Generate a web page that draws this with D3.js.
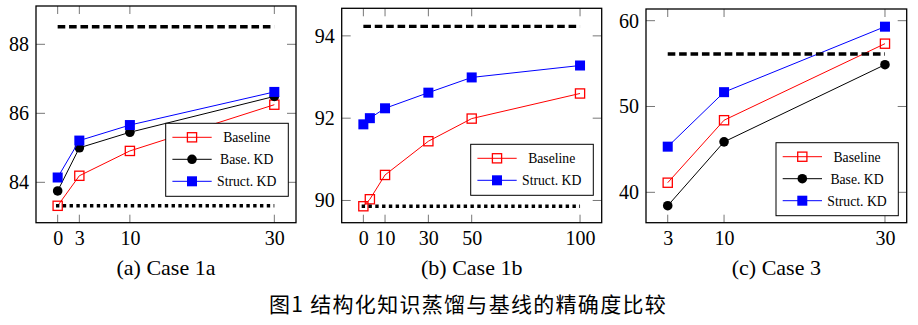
<!DOCTYPE html>
<html><head><meta charset="utf-8">
<script src="https://cdn.jsdelivr.net/npm/d3@7"></script>
<style>html,body{margin:0;padding:0;background:#fff;}svg{display:block;}</style>
</head><body>
<svg id="chart" width="918" height="325"></svg>
<script>
// ---- data ----
const panelTitles = ["(a) Case 1a", "(b) Case 1b", "(c) Case 3"];
const figureCaption = "图1 结构化知识蒸馏与基线的精确度比较";
const seriesNames = ["Baseline", "Base. KD", "Struct. KD"];

const xA = [0, 3, 10, 30];
const baselineA = [83.32, 84.19, 84.91, 86.25];
const baseKdA = [83.75, 85.00, 85.45, 86.49];
const structKdA = [84.14, 85.21, 85.66, 86.62];
const upperA = 88.51, lowerA = 83.32;
const xTicksA = [0, 3, 10, 30];
const yTicksA = [84, 86, 88];

const xB = [0, 3, 10, 30, 50, 100];
const baselineB = [89.86, 90.03, 90.62, 91.44, 91.99, 92.60];
const structKdB = [91.85, 92.00, 92.24, 92.62, 92.99, 93.28];
const upperB = 94.23, lowerB = 89.86;
const xTicksB = [0, 10, 30, 50, 100];
const yTicksB = [90, 92, 94];

const xC = [3, 10, 30];
const baselineC = [41.12, 48.40, 57.32];
const baseKdC = [38.44, 45.88, 54.87];
const structKdC = [45.32, 51.67, 59.30];
const upperC = 56.12;
const xTicksC = [3, 10, 30];
const yTicksC = [40, 50, 60];

// ---- layout / styles ----
const colors = {"Baseline": "#ff0000", "Base. KD": "#000000", "Struct. KD": "#0000ff"};
const panels = [
  {title: panelTitles[0], frame: {x0: 36, x1: 296, y0: 6, y1: 222.7}, xDom: [-3, 33], yDom: [82.83, 89.11],
   xs: xA, series: [["Baseline", baselineA], ["Base. KD", baseKdA], ["Struct. KD", structKdA]],
   upper: upperA, lower: lowerA, refX: [0, 30], xTicks: xTicksA, yTicks: yTicksA,
   legend: {x: 165.7, y: 123.3, w: 122.6}},
  {title: panelTitles[1], frame: {x0: 341.7, x1: 601.7, y0: 8.3, y1: 222.7}, xDom: [-10, 110], yDom: [89.46, 94.67],
   xs: xB, series: [["Baseline", baselineB], ["Struct. KD", structKdB]],
   upper: upperB, lower: lowerB, refX: [0, 100], xTicks: xTicksB, yTicks: yTicksB,
   legend: {x: 470.7, y: 144.3, w: 122.6}},
  {title: panelTitles[2], frame: {x0: 646, x1: 906.7, y0: 9, y1: 222.7}, xDom: [0.3, 32.7], yDom: [36.46, 61.36],
   xs: xC, series: [["Baseline", baselineC], ["Base. KD", baseKdC], ["Struct. KD", structKdC]],
   upper: upperC, lower: null, refX: [3, 30], xTicks: xTicksC, yTicks: yTicksC,
   legend: {x: 776, y: 142.7, w: 122.3}}
];

const svg = d3.select("#chart");
const serif = "'Liberation Serif','Times New Roman',serif";

function drawMarker(g, name, cx, cy) {
  const c = colors[name];
  if (name === "Baseline") {
    g.append("rect").attr("x", cx - 4.6).attr("y", cy - 4.6).attr("width", 9.2).attr("height", 9.2)
      .attr("fill", "none").attr("stroke", c).attr("stroke-width", 1.3);
  } else if (name === "Base. KD") {
    g.append("circle").attr("cx", cx).attr("cy", cy).attr("r", 4.8).attr("fill", c);
  } else {
    g.append("rect").attr("x", cx - 5).attr("y", cy - 5).attr("width", 10).attr("height", 10).attr("fill", c);
  }
}

panels.forEach(p => {
  const f = p.frame;
  const x = d3.scaleLinear().domain(p.xDom).range([f.x0, f.x1]);
  const y = d3.scaleLinear().domain(p.yDom).range([f.y1, f.y0]);
  const g = svg.append("g");

  // ticks inside on all sides
  const tickStyle = s => s.attr("stroke", "#777").attr("stroke-width", 1);
  p.xTicks.forEach(t => {
    g.append("line").attr("x1", x(t)).attr("x2", x(t)).attr("y1", f.y1).attr("y2", f.y1 - 8).call(tickStyle);
    g.append("line").attr("x1", x(t)).attr("x2", x(t)).attr("y1", f.y0).attr("y2", f.y0 + 8).call(tickStyle);
  });
  p.yTicks.forEach(t => {
    g.append("line").attr("x1", f.x0).attr("x2", f.x0 + 9).attr("y1", y(t)).attr("y2", y(t)).call(tickStyle);
    g.append("line").attr("x1", f.x1).attr("x2", f.x1 - 9).attr("y1", y(t)).attr("y2", y(t)).call(tickStyle);
  });

  // tick labels via d3 axes (no lines)
  const xAxis = d3.axisBottom(x).tickValues(p.xTicks).tickSize(0).tickPadding(0).tickFormat(d3.format("d"));
  const xg = g.append("g").attr("transform", `translate(0,${f.y1})`).call(xAxis);
  xg.select(".domain").remove();
  xg.selectAll("text").attr("dy", null).attr("y", 22.5).attr("font-family", serif).attr("font-size", 20).attr("fill", "#000");
  const yAxis = d3.axisLeft(y).tickValues(p.yTicks).tickSize(0).tickPadding(7).tickFormat(d3.format("d"));
  const yg = g.append("g").attr("transform", `translate(${f.x0},0)`).call(yAxis);
  yg.select(".domain").remove();
  yg.selectAll("text").attr("font-family", serif).attr("font-size", 20).attr("fill", "#000");

  // series
  const line = d3.line().x(d => x(d[0])).y(d => y(d[1]));
  p.series.forEach(([name, vals]) => {
    const pts = p.xs.map((xv, i) => [xv, vals[i]]);
    g.append("path").attr("d", line(pts)).attr("fill", "none").attr("stroke", colors[name]).attr("stroke-width", 1);
    pts.forEach(d => drawMarker(g, name, x(d[0]), y(d[1])));
  });

  // reference lines
  g.append("line").attr("x1", x(p.refX[0])).attr("x2", x(p.refX[1])).attr("y1", y(p.upper)).attr("y2", y(p.upper))
    .attr("stroke", "#000").attr("stroke-width", 3.4).attr("stroke-dasharray", "7.6,3.8");
  if (p.lower !== null) {
    g.append("line").attr("x1", x(p.refX[0]) - 1.7).attr("x2", x(p.refX[1])).attr("y1", y(p.lower)).attr("y2", y(p.lower))
      .attr("stroke", "#000").attr("stroke-width", 3.4).attr("stroke-dasharray", "3.4,3.4");
  }

  // frame
  g.append("rect").attr("x", f.x0).attr("y", f.y0).attr("width", f.x1 - f.x0).attr("height", f.y1 - f.y0)
    .attr("fill", "none").attr("stroke", "#000").attr("stroke-width", 1.3);

  // legend
  const L = p.legend, rowH = 22;
  const lh = 14 + (p.series.length - 1) * rowH + 15;
  const lg = g.append("g");
  lg.append("rect").attr("x", L.x).attr("y", L.y).attr("width", L.w).attr("height", lh)
    .attr("fill", "#fff").attr("stroke", "#000").attr("stroke-width", 1);
  p.series.forEach(([name], i) => {
    const yy = L.y + 14 + i * rowH;
    lg.append("line").attr("x1", L.x + 6.7).attr("x2", L.x + 46).attr("y1", yy).attr("y2", yy)
      .attr("stroke", colors[name]).attr("stroke-width", 1);
    drawMarker(lg, name, L.x + 26.3, yy);
    lg.append("text").attr("x", L.x + 81).attr("y", yy + 4.8).attr("text-anchor", "middle")
      .attr("font-family", serif).attr("font-size", 13.7).attr("fill", "#000").text(name);
  });

  // subcaption
  svg.append("text").attr("x", (f.x0 + f.x1) / 2).attr("y", 275).attr("text-anchor", "middle")
    .attr("font-family", serif).attr("font-size", 22).attr("fill", "#000").text(p.title);
});

svg.append("text").attr("x", 468).attr("y", 311.5).attr("text-anchor", "middle")
  .attr("font-family", "'Noto Sans CJK SC', sans-serif").attr("font-size", 21).attr("letter-spacing", 1.3)
  .attr("fill", "#000").text(figureCaption);
</script>
</body></html>
